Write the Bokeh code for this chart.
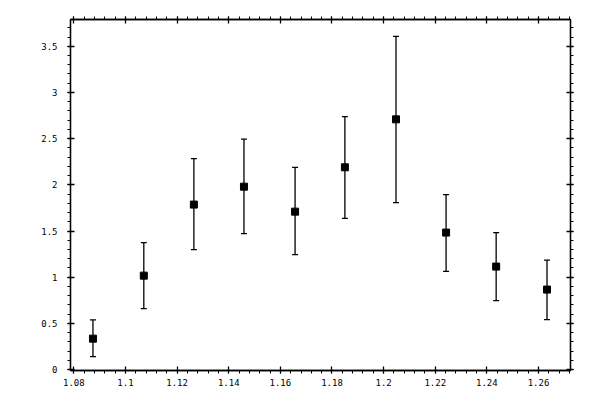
import numpy as np
from bokeh.plotting import figure
from bokeh.models import (ColumnDataSource, Whisker, TeeHead, LinearAxis,
                          FixedTicker, Range1d, CustomJSTickFormatter)
from bokeh.embed import file_html
from bokeh.resources import INLINE

# ---- data ----
x_vals = [1.0874, 1.1071, 1.1265, 1.1459, 1.1657, 1.1850, 1.2048, 1.2242, 1.2436, 1.2633]
y_vals = [0.335, 1.017, 1.786, 1.980, 1.710, 2.190, 2.709, 1.483, 1.115, 0.866]
y_upper = [0.537, 1.374, 2.283, 2.495, 2.190, 2.738, 3.607, 1.893, 1.483, 1.186]
y_lower = [0.140, 0.660, 1.299, 1.472, 1.245, 1.637, 1.807, 1.064, 0.747, 0.541]

x_ticks = [1.08, 1.10, 1.12, 1.14, 1.16, 1.18, 1.20, 1.22, 1.24, 1.26]
x_tick_labels = ["1.08", "1.1", "1.12", "1.14", "1.16", "1.18", "1.2", "1.22", "1.24", "1.26"]
y_ticks = [0, 0.5, 1, 1.5, 2, 2.5, 3, 3.5]
y_tick_labels = ["0", "0.5", "1", "1.5", "2", "2.5", "3", "3.5"]

X_RANGE = (1.0787, 1.2724)
Y_RANGE = (-0.01, 3.79)

src = ColumnDataSource(dict(x=x_vals, y=y_vals, upper=y_upper, lower=y_lower))

p = figure(width=592, height=392, output_backend="svg", toolbar_location=None,
           x_range=Range1d(*X_RANGE), y_range=Range1d(*Y_RANGE),
           x_axis_location=None, y_axis_location=None,
           min_border_left=70, min_border_right=22, min_border_top=19, min_border_bottom=22)
p.grid.visible = False
p.outline_line_color = "black"
p.outline_line_width = 1.3
p.background_fill_color = "white"
p.border_fill_color = "white"

x_minor = [round(v, 4) for v in np.arange(1.076, 1.2724, 0.004)]
y_minor = [round(v, 4) for v in np.arange(0.0, 3.79, 0.1)]
xt = FixedTicker(ticks=x_ticks, minor_ticks=x_minor)
yt = FixedTicker(ticks=y_ticks, minor_ticks=y_minor)

FONT = "DejaVu Sans Mono"

def style(ax, labels):
    ax.axis_line_color = "black"
    ax.axis_line_width = 1.3
    ax.major_tick_line_color = "black"
    ax.minor_tick_line_color = "black"
    ax.major_tick_line_width = 1.3
    ax.minor_tick_line_width = 1.0
    ax.major_tick_in = 4
    ax.major_tick_out = 3
    ax.minor_tick_in = 0
    ax.minor_tick_out = 3
    ax.major_label_text_font = FONT
    ax.major_label_text_font_size = "9px"
    ax.major_label_text_color = "black"
    if labels is None:
        ax.formatter = CustomJSTickFormatter(code="return ''")
        ax.major_label_standoff = 0
    else:
        ax.major_label_overrides = labels

bottom = LinearAxis(ticker=xt)
style(bottom, dict(zip(x_ticks, x_tick_labels)))
bottom.major_label_standoff = 5
left = LinearAxis(ticker=yt)
style(left, dict(zip(y_ticks, y_tick_labels)))
left.major_label_standoff = 10
top = LinearAxis(ticker=xt)
style(top, None)
right = LinearAxis(ticker=yt)
style(right, None)

p.add_layout(bottom, "below")
p.add_layout(left, "left")
p.add_layout(top, "above")
p.add_layout(right, "right")

w = Whisker(source=src, base="x", upper="upper", lower="lower",
            line_color="black", line_width=1.3,
            upper_head=TeeHead(size=6, line_color="black", line_width=1.3),
            lower_head=TeeHead(size=6, line_color="black", line_width=1.3))
p.add_layout(w)
p.scatter("x", "y", source=src, marker="square", size=7,
          fill_color="black", line_color="black")

open("out.html", "w").write(file_html(p, INLINE))
